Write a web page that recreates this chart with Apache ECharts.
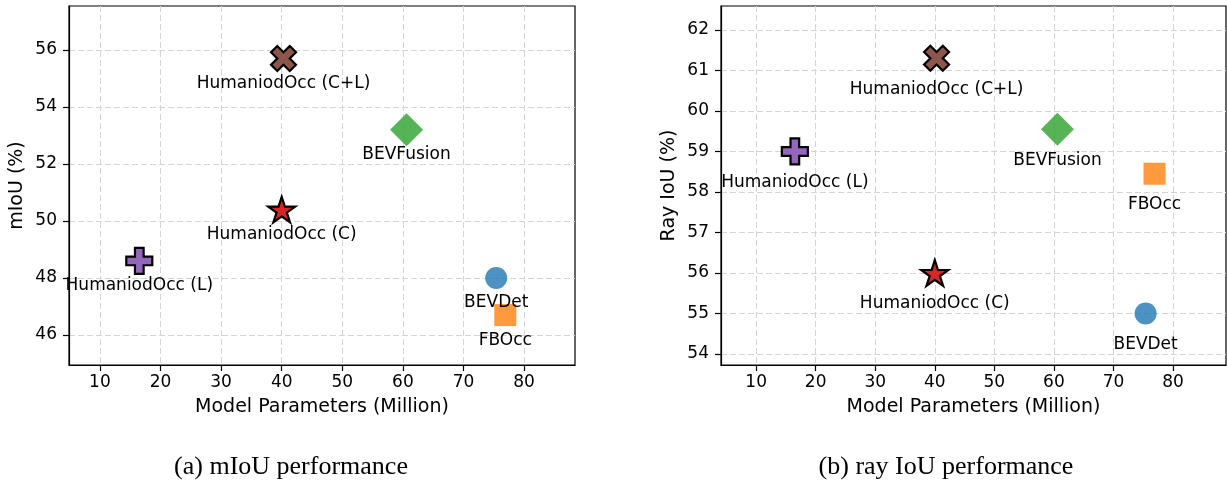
<!DOCTYPE html>
<html>
<head>
<meta charset="utf-8">
<script src="https://cdn.jsdelivr.net/npm/echarts@6/dist/echarts.min.js"></script>
<style>
html,body{margin:0;padding:0;background:#fff;}
#chart{width:1227px;height:484px;}
</style>
</head>
<body>
<div id="chart"></div>
<script>
// ---- data ----
const methods = ['HumaniodOcc (C+L)', 'BEVFusion', 'HumaniodOcc (C)', 'HumaniodOcc (L)', 'BEVDet', 'FBOcc'];
const params = [40.3, 60.6, 40.0, 16.5, 75.4, 76.9];
const miou = [55.7, 53.2, 50.4, 48.6, 48.0, 46.7];
const rayiou = [61.3, 59.55, 56.0, 59.0, 55.0, 58.45];
const xTicks = [10, 20, 30, 40, 50, 60, 70, 80];
const miouTicks = [46, 48, 50, 52, 54, 56];
const rayTicks = [54, 55, 56, 57, 58, 59, 60, 61, 62];
const captions = ['(a) mIoU performance', '(b) ray IoU performance'];

// ---- styles ----
const X_PATH = 'path://M212,0 L283,71 L212,141 L283,212 L212,283 L141,212 L71,283 L0,212 L71,141 L0,71 L71,0 L141,71 Z';
const P_PATH = 'path://M100,0 L200,0 L200,100 L300,100 L300,200 L200,200 L200,300 L100,300 L100,200 L0,200 L0,100 L100,100 Z';
const STAR_PATH = 'path://M100,0 L122.45,69.1 L195.1,69.1 L136.3,111.8 L158.8,180.9 L100,138.2 L41.2,180.9 L63.7,111.8 L4.9,69.1 L77.55,69.1 Z';
const markerStyles = [
  {symbol: X_PATH, size: 25, color: '#8c564b', edge: true},
  {symbol: 'diamond', size: 33, color: 'rgba(44,160,44,0.8)', edge: false},
  {symbol: STAR_PATH, size: 27, color: '#d62728', edge: true},
  {symbol: P_PATH, size: 26, color: '#9467bd', edge: true},
  {symbol: 'circle', size: 22, color: 'rgba(31,119,180,0.8)', edge: false},
  {symbol: 'rect', size: 22, color: 'rgba(255,127,14,0.8)', edge: false}
];

const FONT = 'DejaVu Sans';
const gridLine = {show: true, lineStyle: {color: '#d4d4d4', width: 1, type: [6, 3]}};

function makeX(gi, min, max) {
  return {
    type: 'value', gridIndex: gi, min: min, max: max,
    name: 'Model Parameters (Million)', nameLocation: 'middle', nameGap: 33,
    nameTextStyle: {fontFamily: FONT, fontSize: 19, color: '#000'},
    axisLine: {show: true, onZero: false, lineStyle: {color: '#000', width: 1.2}},
    axisTick: {show: true, inside: false, length: 6, customValues: xTicks, lineStyle: {color: '#000', width: 1.2}},
    axisLabel: {customValues: xTicks, margin: 9, fontFamily: FONT, fontSize: 17, color: '#000'},
    splitLine: gridLine
  };
}
function makeY(gi, min, max, ticks, name) {
  return {
    type: 'value', gridIndex: gi, min: min, max: max,
    name: name, nameLocation: 'middle', nameGap: 42, nameRotate: 90,
    nameTextStyle: {fontFamily: FONT, fontSize: 19, color: '#000'},
    axisLine: {show: true, onZero: false, lineStyle: {color: '#000', width: 1.2}},
    axisTick: {show: true, inside: false, length: 6, customValues: ticks, lineStyle: {color: '#000', width: 1.2}},
    axisLabel: {customValues: ticks, margin: 12, fontFamily: FONT, fontSize: 17, color: '#000'},
    splitLine: gridLine
  };
}

const series = [];
[miou, rayiou].forEach(function (vals, gi) {
  methods.forEach(function (m, i) {
    const st = markerStyles[i];
    series.push({
      type: 'scatter', name: m, xAxisIndex: gi, yAxisIndex: gi,
      symbol: st.symbol, symbolSize: st.size, symbolKeepAspect: true,
      itemStyle: {
        color: st.color,
        opacity: 1,
        borderColor: st.edge ? '#000' : 'transparent',
        borderWidth: st.edge ? 2.2 : 0
      },
      label: {
        show: true, position: 'inside', offset: [0, gi === 0 ? 25 : 31],
        formatter: m, fontFamily: FONT, fontSize: 17, color: '#000'
      },
      emphasis: {disabled: true},
      silent: true, animation: false,
      data: [[params[i], vals[i]]]
    });
  });
});

const chart = echarts.init(document.getElementById('chart'), null, {renderer: 'canvas'});
chart.setOption({
  backgroundColor: '#fff',
  animation: false,
  title: [
    {text: captions[0], left: 291, top: 454, textAlign: 'center', padding: 0,
     textStyle: {fontFamily: 'Liberation Serif', fontSize: 26, fontWeight: 'normal', color: '#000'}},
    {text: captions[1], left: 946, top: 454, textAlign: 'center', padding: 0,
     textStyle: {fontFamily: 'Liberation Serif', fontSize: 26, fontWeight: 'normal', color: '#000'}}
  ],
  grid: [
    {left: 69, top: 6, width: 506, height: 359, show: true, borderColor: '#000', borderWidth: 1.2, containLabel: false},
    {left: 721, top: 6, width: 505, height: 359, show: true, borderColor: '#000', borderWidth: 1.2, containLabel: false}
  ],
  xAxis: [makeX(0, 4.9, 88.4), makeX(1, 4.1, 88.9)],
  yAxis: [makeY(0, 44.95, 57.54, miouTicks, 'mIoU (%)'), makeY(1, 53.73, 62.59, rayTicks, 'Ray IoU (%)')],
  series: series
});
</script>
</body>
</html>
